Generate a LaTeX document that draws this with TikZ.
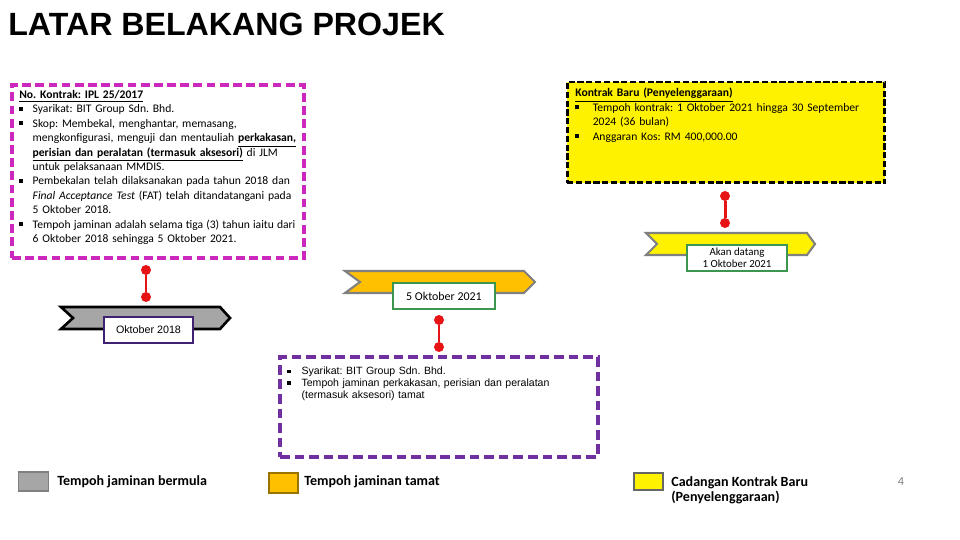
\documentclass[tikz,border=0pt]{standalone}
\usepackage{fontspec}
\setmainfont{Carlito}
\newfontfamily\titlefont{Liberation Sans}
\newfontfamily\arialfont{Liberation Sans}
\usepackage{tikz}
\frenchspacing

\definecolor{pinkline}{RGB}{204,40,190}
\definecolor{purpleline}{RGB}{112,48,160}
\definecolor{labelpurple}{RGB}{64,32,112}
\definecolor{labelgreen}{RGB}{60,150,80}
\definecolor{orangefill}{RGB}{255,192,0}
\definecolor{greyfill}{RGB}{166,166,166}
\definecolor{redlink}{RGB}{230,20,20}
\definecolor{edgegrey}{RGB}{128,128,128}

% small square bullet and hanging item
\newcommand{\sqbul}{\rule[0.18em]{0.33em}{0.33em}}
\newcommand{\itm}[1]{\par\hangindent=#1\hangafter=1\noindent\makebox[#1][l]{\sqbul}}

\begin{document}
\begin{tikzpicture}[x=0.02cm, y=-0.02cm,
  boxtext/.style={anchor=north west, inner sep=0, align=left},
  datebox/.style={draw, fill=white, line width=1.2pt, inner sep=0, outer sep=0, minimum height=0.52cm},
  reddot/.style={circle, fill=redlink, inner sep=0, minimum size=0.2cm},
  redline/.style={draw=redlink, line width=1.7pt},
  legendbox/.style={draw=edgegrey, line width=1.1pt, inner sep=0}]
  \useasboundingbox (0,0) rectangle (960,540);
  % title
  \node[anchor=west, inner sep=0, font=\titlefont\bfseries\fontsize{18.3}{20}\selectfont] (title) at (8,24.5) {LATAR BELAKANG PROJEK};
  % contract box (magenta, dashed)
  \node[draw=pinkline, line width=2.3pt, dash pattern=on 5pt off 2.5pt,
        minimum width=5.84cm, minimum height=3.46cm, inner sep=0] (kontrak) at (158,171.5) {};
  \node[boxtext, text width=5.7cm, font=\fontsize{6.6}{8.2}\selectfont] (kontrakTxt) at (19,90) {%
    \noindent\underline{\textbf{No. Kontrak: IPL 25/2017}}
    \itm{1.15em}Syarikat: BIT Group Sdn. Bhd.
    \itm{1.15em}Skop: Membekal, menghantar, memasang,\newline
      mengkonfigurasi, menguji dan mentauliah \underline{\textbf{perkakasan,}}\newline
      \underline{\textbf{perisian dan peralatan (termasuk aksesori)}} di JLM\newline
      untuk pelaksanaan MMDIS.
    \itm{1.15em}Pembekalan telah dilaksanakan pada tahun 2018 dan\newline
      \textit{Final Acceptance Test} (FAT) telah ditandatangani pada\newline
      5 Oktober 2018.
    \itm{1.15em}{\spaceskip=0.27em Tempoh jaminan adalah selama tiga (3) tahun iaitu dari}\newline
      6 Oktober 2018 sehingga 5 Oktober 2021.\par};
  % new contract box (yellow, dashed)
  \node[draw=black, fill=yellow, line width=1.7pt, dash pattern=on 3.5pt off 1.5pt,
        minimum width=6.36cm, minimum height=2.02cm, inner sep=0] (baru) at (726,132.5) {};
  \node[boxtext, text width=6.1cm, font=\fontsize{6.6}{8.2}\selectfont] (baruTxt) at (575,88) {%
    \noindent\underline{\textbf{Kontrak Baru (Penyelenggaraan)}}
    \itm{1.5em}Tempoh kontrak: 1 Oktober 2021 hingga 30 September\newline
      2024 (36 bulan)
    \itm{1.5em}Anggaran Kos: RM 400,000.00\par};
  % end-of-warranty box (purple, dashed)
  \node[draw=purpleline, line width=2.3pt, dash pattern=on 5.5pt off 2.8pt,
        minimum width=6.36cm, minimum height=2.0cm, inner sep=0] (tamat) at (439,407) {};
  \node[boxtext, text width=6cm, font=\arialfont\fontsize{6}{6.6}\selectfont] (tamatTxt) at (287,363) {%
    \itm{1.35em}Syarikat: BIT Group Sdn. Bhd.
    \itm{1.35em}Tempoh jaminan perkakasan, perisian dan peralatan\newline
      (termasuk aksesori) tamat\par};
  % chevrons
  \draw[fill=greyfill, line width=1.5pt, line join=miter] (61,307) -- (220,307) -- (230,318) -- (220,329) -- (61,329) -- (73,318) -- cycle;
  \draw[fill=orangefill, draw=edgegrey, line width=1.2pt] (345,271) -- (524,271) -- (535,282) -- (524,293) -- (345,293) -- (360,282) -- cycle;
  \draw[fill=yellow, draw=edgegrey, line width=1.2pt] (646,233) -- (807,233) -- (815,244) -- (807,255) -- (646,255) -- (657,244) -- cycle;
  % date labels
  \node[datebox, draw=labelpurple, minimum width=1.78cm, font=\arialfont\fontsize{6.1}{7}\selectfont] (mula) at (148.5,330) {Oktober 2018};
  \node[datebox, draw=labelgreen, minimum width=2.04cm, font=\fontsize{6.8}{8}\selectfont] (akhir) at (444,296) {5 Oktober 2021};
  \node[datebox, draw=labelgreen, minimum width=2.0cm, align=center, font=\fontsize{6.2}{6.8}\selectfont] (datang) at (737,258) {Akan datang\\1 Oktober 2021};
  % red links
  \node[reddot] (l1a) at (146,270) {};
  \node[reddot] (l1b) at (146,297) {};
  \draw[redline] (l1a) -- (l1b);
  \node[reddot] (l2a) at (439,320) {};
  \node[reddot] (l2b) at (439,347) {};
  \draw[redline] (l2a) -- (l2b);
  \node[reddot] (l3a) at (725,196) {};
  \node[reddot] (l3b) at (725,223) {};
  \draw[redline] (l3a) -- (l3b);
  % legend
  \node[legendbox, fill=greyfill, minimum width=0.6cm, minimum height=0.38cm] (keyMula) at (33.5,481.5) {};
  \node[anchor=west, inner sep=0, font=\bfseries\fontsize{8}{9}\selectfont] (keyMulaTxt) at (57,482) {Tempoh jaminan bermula};
  \node[legendbox, fill=orangefill, draw=orangefill!60!black, minimum width=0.58cm, minimum height=0.4cm] (keyTamat) at (283.5,483) {};
  \node[anchor=west, inner sep=0, font=\bfseries\fontsize{8}{9}\selectfont] (keyTamatTxt) at (304,482) {Tempoh jaminan tamat};
  \node[legendbox, fill=yellow, draw=edgegrey!80!black, minimum width=0.58cm, minimum height=0.34cm] (keyBaru) at (648.5,481.5) {};
  \node[anchor=north west, inner sep=0, align=left, font=\bfseries\fontsize{8}{8.6}\selectfont] (keyBaruTxt) at (671,476) {Cadangan Kontrak Baru\\(Penyelenggaraan)};
  \node[inner sep=0, text=gray, font=\fontsize{7}{8}\selectfont] (page) at (901,482) {4};
\end{tikzpicture}
\end{document}
